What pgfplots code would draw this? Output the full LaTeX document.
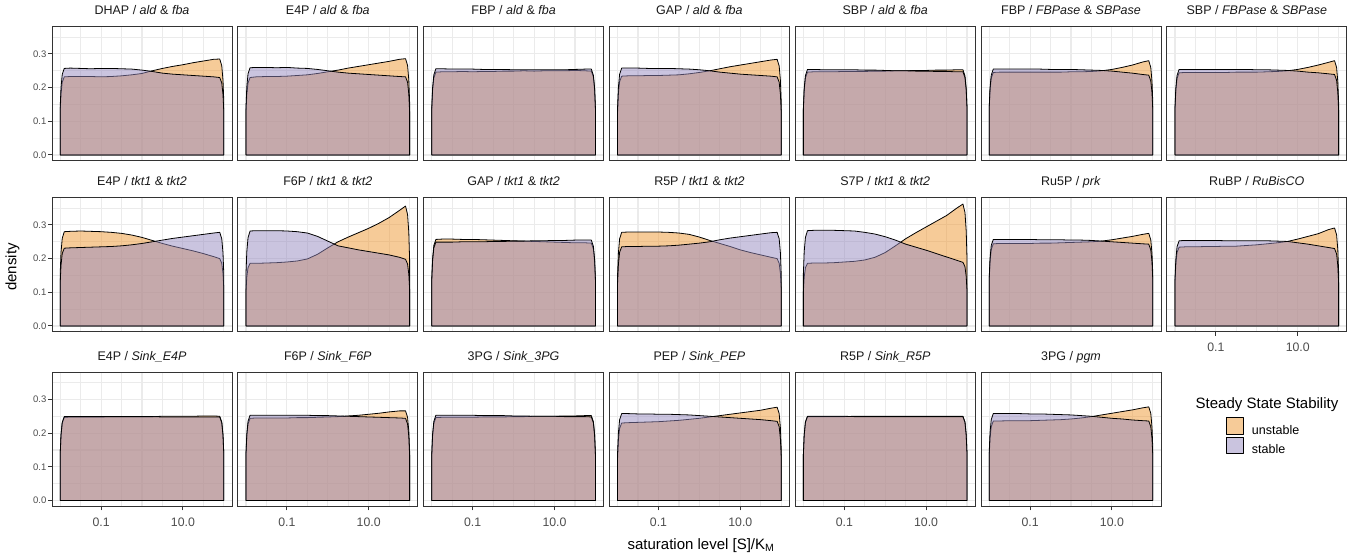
\documentclass[border=0pt]{standalone}
\usepackage{fontspec}
\setmainfont{Liberation Sans}
\usepackage{pgfplots}
\usepackage{pgfplotstable}
\pgfplotsset{compat=1.18}
\definecolor{uns}{RGB}{237,151,49}
\definecolor{sta}{RGB}{149,137,191}
\definecolor{grid92}{RGB}{235,235,235}
\definecolor{grey20}{RGB}{51,51,51}
\definecolor{grey30}{RGB}{77,77,77}

\pgfplotstableread{
x u s
-2 .128 .141
-1.98 .181 .200
-1.95 .216 .239
-1.9 .232 .257
-1.75 .233 .258
-1.5 .233 .257
-1.25 .233 .256
-1 .232 .257
-0.75 .233 .257
-0.5 .235 .256
-0.25 .238 .255
0 .242 .252
0.25 .250 .248
0.5 .257 .243
0.75 .263 .240
1 .268 .238
1.25 .274 .236
1.5 .279 .234
1.75 .284 .232
1.9 .285 .230
1.95 .265 .214
1.98 .222 .179
2 .157 .127
}\tA
\pgfplotstableread{
x u s
-2 .127 .142
-1.98 .179 .202
-1.95 .214 .241
-1.9 .230 .259
-1.75 .232 .260
-1.5 .233 .260
-1.25 .233 .259
-1 .234 .260
-0.75 .236 .258
-0.5 .238 .257
-0.25 .242 .254
0 .247 .250
0.25 .252 .246
0.5 .258 .243
0.75 .263 .241
1 .268 .239
1.25 .273 .237
1.5 .278 .235
1.75 .284 .233
1.9 .286 .232
1.95 .266 .216
1.98 .223 .181
2 .157 .128
}\tB
\pgfplotstableread{
x u s
-2 .135 .141
-1.98 .192 .200
-1.95 .229 .238
-1.9 .246 .256
-1.75 .247 .256
-1.5 .247 .255
-1.25 .248 .255
-1 .247 .255
-0.75 .248 .254
-0.5 .248 .254
-0.25 .249 .254
0 .249 .253
0.25 .250 .253
0.5 .249 .253
0.75 .250 .253
1 .250 .253
1.25 .250 .253
1.5 .251 .254
1.75 .250 .255
1.9 .249 .255
1.95 .232 .237
1.98 .194 .199
2 .137 .140
}\tC
\pgfplotstableread{
x u s
-2 .129 .142
-1.98 .183 .201
-1.95 .218 .240
-1.9 .234 .258
-1.75 .235 .258
-1.5 .235 .258
-1.25 .236 .257
-1 .236 .257
-0.75 .237 .257
-0.5 .238 .256
-0.25 .241 .255
0 .245 .253
0.25 .250 .250
0.5 .256 .246
0.75 .262 .243
1 .267 .240
1.25 .272 .238
1.5 .277 .236
1.75 .282 .234
1.9 .284 .232
1.95 .264 .216
1.98 .222 .181
2 .156 .128
}\tD
\pgfplotstableread{
x u s
-2 .135 .140
-1.98 .192 .198
-1.95 .229 .236
-1.9 .246 .254
-1.75 .247 .254
-1.5 .247 .253
-1.25 .247 .253
-1 .248 .253
-0.75 .248 .253
-0.5 .248 .252
-0.25 .249 .252
0 .249 .251
0.25 .250 .250
0.5 .250 .250
0.75 .251 .249
1 .251 .249
1.25 .252 .248
1.5 .252 .248
1.75 .253 .247
1.9 .253 .247
1.95 .235 .230
1.98 .197 .193
2 .139 .136
}\tE
\pgfplotstableread{
x u s
-2 .135 .140
-1.98 .191 .199
-1.95 .228 .237
-1.9 .245 .255
-1.75 .246 .255
-1.5 .246 .255
-1.25 .246 .255
-1 .246 .255
-0.75 .246 .255
-0.5 .246 .254
-0.25 .246 .254
0 .247 .254
0.25 .247 .253
0.5 .248 .252
0.75 .250 .251
1 .254 .249
1.25 .260 .246
1.5 .267 .243
1.75 .276 .239
1.9 .280 .237
1.95 .260 .220
1.98 .218 .185
2 .154 .130
}\tF
\pgfplotstableread{
x u s
-2 .134 .140
-1.98 .190 .198
-1.95 .227 .236
-1.9 .244 .254
-1.75 .245 .254
-1.5 .245 .254
-1.25 .245 .254
-1 .245 .254
-0.75 .245 .254
-0.5 .246 .254
-0.25 .246 .254
0 .246 .253
0.25 .247 .253
0.5 .248 .252
0.75 .250 .251
1 .254 .249
1.25 .260 .246
1.5 .267 .244
1.75 .275 .241
1.9 .280 .239
1.95 .260 .222
1.98 .218 .186
2 .154 .131
}\tG
\pgfplotstableread{
x u s
-2 .154 .127
-1.98 .218 .180
-1.95 .260 .215
-1.9 .280 .231
-1.75 .281 .232
-1.5 .282 .233
-1.25 .281 .234
-1 .280 .235
-0.75 .278 .236
-0.5 .275 .238
-0.25 .270 .241
0 .263 .245
0.25 .254 .250
0.5 .245 .255
0.75 .237 .260
1 .230 .264
1.25 .223 .268
1.5 .215 .272
1.75 .206 .276
1.9 .200 .278
1.95 .186 .259
1.98 .156 .217
2 .110 .153
}\tH
\pgfplotstableread{
x u s
-2 .102 .155
-1.98 .145 .220
-1.95 .173 .262
-1.9 .186 .282
-1.75 .186 .283
-1.5 .187 .283
-1.25 .188 .283
-1 .190 .282
-0.75 .193 .280
-0.5 .199 .276
-0.25 .213 .266
0 .232 .252
0.25 .250 .238
0.5 .264 .232
0.75 .277 .226
1 .290 .221
1.25 .305 .216
1.5 .322 .211
1.75 .343 .204
1.9 .356 .198
1.95 .331 .184
1.98 .278 .154
2 .196 .109
}\tI
\pgfplotstableread{
x u s
-2 .141 .137
-1.98 .200 .194
-1.95 .239 .232
-1.9 .257 .249
-1.75 .258 .249
-1.5 .258 .249
-1.25 .257 .250
-1 .257 .250
-0.75 .256 .250
-0.5 .255 .251
-0.25 .254 .251
0 .253 .252
0.25 .252 .252
0.5 .251 .253
0.75 .250 .253
1 .249 .254
1.25 .248 .254
1.5 .247 .255
1.75 .247 .255
1.9 .246 .255
1.95 .229 .237
1.98 .192 .199
2 .135 .140
}\tJ
\pgfplotstableread{
x u s
-2 .153 .129
-1.98 .217 .183
-1.95 .259 .219
-1.9 .278 .235
-1.75 .279 .236
-1.5 .279 .236
-1.25 .279 .237
-1 .279 .237
-0.75 .278 .238
-0.5 .276 .240
-0.25 .272 .243
0 .264 .246
0.25 .254 .250
0.5 .245 .256
0.75 .236 .261
1 .226 .265
1.25 .218 .269
1.5 .211 .273
1.75 .204 .277
1.9 .200 .278
1.95 .186 .259
1.98 .156 .217
2 .110 .153
}\tK
\pgfplotstableread{
x u s
-2 .102 .156
-1.98 .145 .221
-1.95 .173 .263
-1.9 .186 .283
-1.75 .187 .284
-1.5 .187 .284
-1.25 .188 .284
-1 .190 .283
-0.75 .192 .282
-0.5 .196 .278
-0.25 .204 .273
0 .218 .265
0.25 .238 .255
0.5 .259 .243
0.75 .277 .234
1 .294 .225
1.25 .311 .215
1.5 .328 .205
1.75 .350 .195
1.9 .362 .189
1.95 .337 .176
1.98 .282 .147
2 .199 .104
}\tL
\pgfplotstableread{
x u s
-2 .134 .141
-1.98 .190 .200
-1.95 .227 .239
-1.9 .244 .257
-1.75 .245 .257
-1.5 .245 .257
-1.25 .245 .257
-1 .245 .257
-0.75 .246 .256
-0.5 .246 .256
-0.25 .247 .256
0 .248 .255
0.25 .249 .255
0.5 .250 .254
0.75 .252 .252
1 .256 .250
1.25 .261 .248
1.5 .266 .246
1.75 .272 .244
1.9 .275 .243
1.95 .256 .226
1.98 .215 .190
2 .151 .134
}\tM
\pgfplotstableread{
x u s
-2 .129 .139
-1.98 .183 .197
-1.95 .218 .235
-1.9 .234 .253
-1.75 .235 .254
-1.5 .235 .254
-1.25 .236 .254
-1 .236 .254
-0.75 .237 .253
-0.5 .237 .253
-0.25 .239 .253
0 .241 .253
0.25 .244 .253
0.5 .247 .252
0.75 .251 .251
1 .258 .247
1.25 .266 .243
1.5 .274 .238
1.75 .286 .233
1.9 .291 .230
1.95 .271 .214
1.98 .227 .179
2 .160 .127
}\tN
\pgfplotstableread{
x u s
-2 .136 .137
-1.98 .193 .194
-1.95 .230 .232
-1.9 .247 .249
-1.75 .248 .249
-1.5 .248 .249
-1.25 .248 .249
-1 .248 .249
-0.75 .249 .249
-0.5 .249 .249
-0.25 .249 .249
0 .249 .249
0.25 .249 .249
0.5 .250 .248
0.75 .250 .248
1 .250 .248
1.25 .250 .248
1.5 .251 .248
1.75 .251 .248
1.9 .250 .248
1.95 .233 .231
1.98 .195 .193
2 .138 .136
}\tO
\pgfplotstableread{
x u s
-2 .134 .139
-1.98 .190 .197
-1.95 .227 .235
-1.9 .244 .253
-1.75 .245 .253
-1.5 .245 .253
-1.25 .245 .253
-1 .245 .253
-0.75 .246 .253
-0.5 .246 .253
-0.25 .247 .252
0 .248 .252
0.25 .249 .251
0.5 .251 .250
0.75 .253 .249
1 .256 .248
1.25 .259 .247
1.5 .263 .246
1.75 .266 .245
1.9 .266 .244
1.95 .247 .227
1.98 .207 .190
2 .146 .134
}\tP
\pgfplotstableread{
x u s
-2 .135 .139
-1.98 .192 .197
-1.95 .229 .235
-1.9 .246 .253
-1.75 .247 .253
-1.5 .247 .253
-1.25 .247 .253
-1 .247 .253
-0.75 .248 .252
-0.5 .248 .252
-0.25 .248 .252
0 .249 .251
0.25 .249 .251
0.5 .250 .250
0.75 .250 .250
1 .250 .250
1.25 .251 .249
1.5 .251 .249
1.75 .252 .249
1.9 .252 .248
1.95 .234 .231
1.98 .197 .193
2 .139 .136
}\tQ
\pgfplotstableread{
x u s
-2 .127 .142
-1.98 .179 .201
-1.95 .214 .240
-1.9 .230 .258
-1.75 .231 .258
-1.5 .232 .257
-1.25 .233 .257
-1 .234 .256
-0.75 .236 .256
-0.5 .238 .255
-0.25 .241 .254
0 .244 .252
0.25 .248 .250
0.5 .252 .248
0.75 .256 .246
1 .260 .244
1.25 .264 .242
1.5 .268 .240
1.75 .274 .237
1.9 .277 .235
1.95 .258 .219
1.98 .216 .183
2 .152 .129
}\tR
\pgfplotstableread{
x u s
-2 .137 .138
-1.98 .194 .195
-1.95 .232 .233
-1.9 .249 .250
-1.75 .249 .250
-1.5 .249 .250
-1.25 .249 .250
-1 .249 .250
-0.75 .250 .249
-0.5 .250 .249
-0.25 .250 .249
0 .250 .249
0.25 .250 .249
0.5 .250 .249
0.75 .250 .249
1 .250 .249
1.25 .250 .249
1.5 .250 .249
1.75 .250 .249
1.9 .250 .249
1.95 .233 .232
1.98 .195 .194
2 .138 .137
}\tS
\pgfplotstableread{
x u s
-2 .130 .142
-1.98 .184 .201
-1.95 .219 .240
-1.9 .236 .258
-1.75 .236 .258
-1.5 .237 .258
-1.25 .237 .258
-1 .237 .257
-0.75 .238 .257
-0.5 .239 .256
-0.25 .240 .255
0 .242 .254
0.25 .245 .252
0.5 .249 .250
0.75 .254 .247
1 .259 .244
1.25 .264 .242
1.5 .269 .239
1.75 .275 .237
1.9 .278 .236
1.95 .259 .219
1.98 .217 .184
2 .153 .130
}\tT

\pgfplotsset{
  panel/.style={
    anchor=south west, scale only axis, width=180pt, height=134pt,
    xmin=-2.2, xmax=2.2, ymin=-0.0178, ymax=0.38,
    xtick={-2,-1.5,-1,-0.5,0,0.5,1,1.5,2},
    ytick={0,0.05,0.1,0.15,0.2,0.25,0.3,0.35},
    xticklabels={}, yticklabels={},
    major tick length=0pt, tick pos=left,
    grid=major, major grid style={draw=grid92, line width=1.1pt},
    axis line style={draw=grey20, line width=1pt},
    title style={font=\fontsize{12.5}{15}\selectfont, text=black!90, anchor=base,
      at={(0.5,1)}, yshift=6.3pt, inner sep=0pt},
    /pgf/number format/assume math mode=true,
  },
  ufill/.style={draw=black, line width=0.8pt, fill=uns, fill opacity=0.5, line join=round},
  sfill/.style={draw=black, line width=0.8pt, fill=sta, fill opacity=0.5, line join=round},
  ylab/.style={extra y ticks={0,0.1,0.2,0.3}, extra y tick labels={0.0,0.1,0.2,0.3},
    extra y tick style={grid=none, major tick length=4pt, tick align=outside,
      tick style={draw=grey20, line width=1pt}},
    yticklabel style={anchor=east, inner sep=0pt, xshift=-1.5pt,
      font=\fontsize{9.5}{11}\selectfont, text=grey30}},
  xlab/.style={extra x ticks={-1,1}, extra x tick labels={0.1,10.0},
    extra x tick style={grid=none, major tick length=4pt, tick align=outside,
      tick style={draw=grey20, line width=1pt}},
    xticklabel style={anchor=base, inner sep=0pt, yshift=-15.6pt,
      font=\fontsize{12.3}{14}\selectfont, text=grey30}},
  keyimg/.style={legend image code/.code={\draw[##1] (0pt,-3.7pt) rectangle (17pt,12.7pt);}},
}

\newcommand{\panel}[5]{%
  \begin{axis}[panel, at={(#1pt,#2pt)}, title={#3}, #5]
    \addplot[ufill] table[x=x,y=u]{#4} \closedcycle;
    \addplot[sfill] table[x=x,y=s]{#4} \closedcycle;
  \end{axis}}

\begin{document}
\begin{tikzpicture}
\path[use as bounding box] (0pt,0pt) rectangle (1357pt,553pt);
% row 1
\panel{52}{392}{DHAP / \textit{ald} \& \textit{fba}}{\tA}{ylab}
\panel{237.8}{392}{E4P / \textit{ald} \& \textit{fba}}{\tB}{}
\panel{423.6}{392}{FBP / \textit{ald} \& \textit{fba}}{\tC}{}
\panel{609.4}{392}{GAP / \textit{ald} \& \textit{fba}}{\tD}{}
\panel{795.2}{392}{SBP / \textit{ald} \& \textit{fba}}{\tE}{}
\panel{981}{392}{FBP / \textit{FBPase} \& \textit{SBPase}}{\tF}{}
\panel{1166.8}{392}{SBP / \textit{FBPase} \& \textit{SBPase}}{\tG}{}
% row 2
\panel{52}{221}{E4P / \textit{tkt1} \& \textit{tkt2}}{\tH}{ylab}
\panel{237.8}{221}{F6P / \textit{tkt1} \& \textit{tkt2}}{\tI}{}
\panel{423.6}{221}{GAP / \textit{tkt1} \& \textit{tkt2}}{\tJ}{}
\panel{609.4}{221}{R5P / \textit{tkt1} \& \textit{tkt2}}{\tK}{}
\panel{795.2}{221}{S7P / \textit{tkt1} \& \textit{tkt2}}{\tL}{}
\panel{981}{221}{Ru5P / \textit{prk}}{\tM}{}
\panel{1166.8}{221}{RuBP / \textit{RuBisCO}}{\tN}{xlab}
% row 3
\panel{52}{46.5}{E4P / \textit{Sink\_E4P}}{\tO}{ylab,xlab}
\panel{237.8}{46.5}{F6P / \textit{Sink\_F6P}}{\tP}{xlab}
\panel{423.6}{46.5}{3PG / \textit{Sink\_3PG}}{\tQ}{xlab}
\panel{609.4}{46.5}{PEP / \textit{Sink\_PEP}}{\tR}{xlab}
\panel{795.2}{46.5}{R5P / \textit{Sink\_R5P}}{\tS}{xlab}
\panel{981}{46.5}{3PG / \textit{pgm}}{\tT}{xlab, keyimg, legend entries={unstable,stable},
  legend cell align=left,
  legend style={at={(1.361,0.668)}, anchor=north west, draw=none, fill=none,
    font=\fontsize{12.5}{15}\selectfont, row sep=1pt, column sep=8pt, inner sep=0pt,
    nodes={inner sep=0pt}}}
% labels
\node[rotate=90, font=\fontsize{15}{18}\selectfont] at (12.5pt,286pt) {density};
\node[anchor=base, font=\fontsize{15}{18}\selectfont] at (701pt,3.5pt) {saturation level [S]/K\textsubscript{M}};
\node[anchor=base, font=\fontsize{15}{18}\selectfont] at (1267pt,144.5pt) {Steady State Stability};
\end{tikzpicture}
\end{document}
